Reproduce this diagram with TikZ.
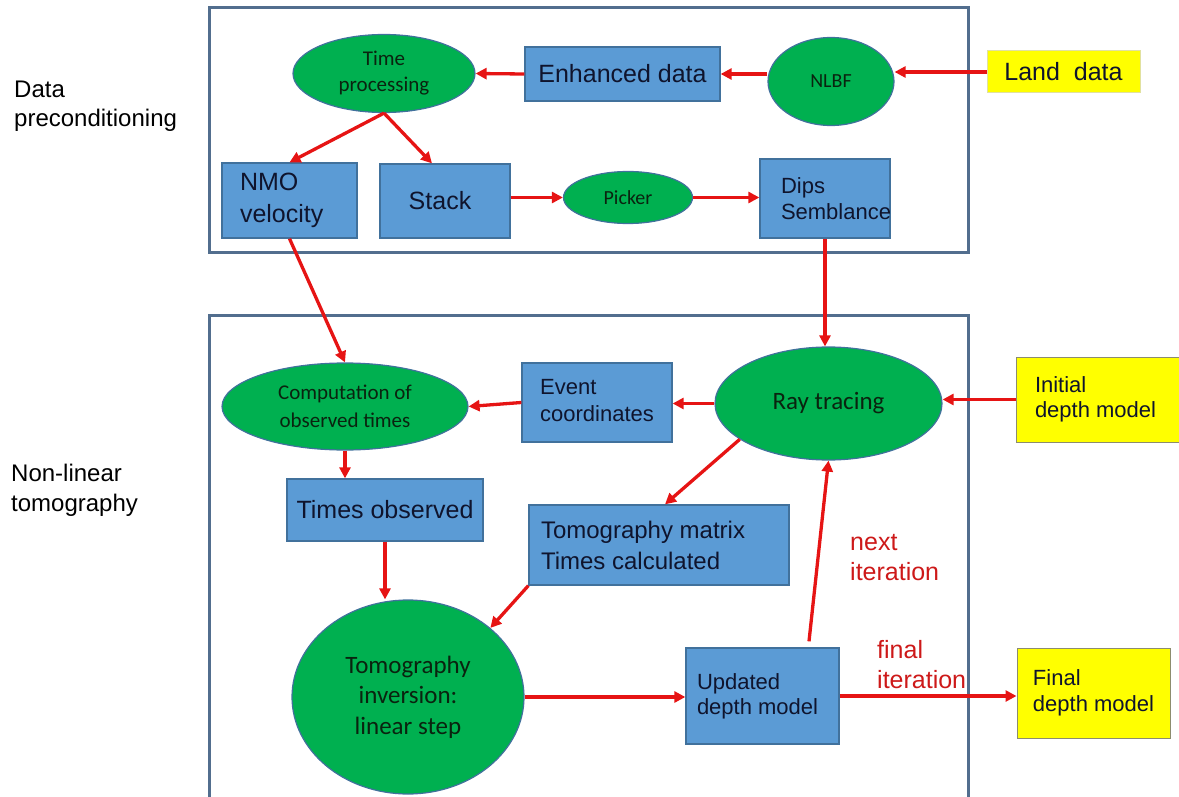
\documentclass[tikz,border=0pt]{standalone}
\usepackage{fontspec}
\setmainfont{Liberation Sans}
\newfontfamily\calfont{Carlito}
\usetikzlibrary{shapes.geometric,arrows.meta,calc}
\definecolor{boxblue}{RGB}{91,155,213}
\definecolor{boxline}{RGB}{65,113,156}
\definecolor{ellgreen}{RGB}{0,176,80}
\definecolor{ellline}{RGB}{65,113,156}
\definecolor{yel}{RGB}{255,255,0}
\definecolor{yelline}{RGB}{140,140,110}
\definecolor{framec}{RGB}{82,110,142}
\definecolor{arrred}{RGB}{230,20,20}
\definecolor{labred}{RGB}{205,25,25}
\definecolor{boxtext}{RGB}{15,20,45}
\definecolor{elltext}{RGB}{10,35,15}
\newcommand{\fsz}[2]{\fontsize{#1}{#2}\selectfont}
\begin{document}
\begin{tikzpicture}[x=1pt,y=-1pt,
  bluebox/.style={rectangle,draw=boxline,fill=boxblue,line width=1.3pt,inner sep=0pt,text=boxtext,align=left},
  greenell/.style={ellipse,draw=ellline,fill=ellgreen,line width=1.2pt,inner sep=0pt,text=elltext,align=center},
  yelbox/.style={rectangle,fill=yel,draw=yelline,line width=1pt,inner sep=0pt,text=boxtext,align=left},
  framebox/.style={draw=framec,line width=3pt},
  flow/.style={draw=arrred,line width=3.3pt,-{Triangle[length=11pt,width=11pt]}},
  side/.style={align=left,anchor=west,text=black,inner sep=0pt},
  redlab/.style={align=left,anchor=west,text=labred,inner sep=0pt},
]
\useasboundingbox (0,0) rectangle (1179,797);
% frames
\draw[framebox] (209,8) rectangle (968,252);
\draw[framebox] (209,800) -- (209,315) -- (968,315) -- (968,800);

% side labels
\node[side,font=\fsz{24}{29}] (lab1) at (14,106.5) {Data\\preconditioning};
\node[side,font=\fsz{24}{30}] (lab2) at (11,490) {Non-linear\\tomography};

% top section
\node[greenell,minimum width=182pt,minimum height=78pt,font=\calfont\fsz{21}{26}] (tp) at (384,73.5) {Time\\processing};
\node[bluebox,minimum width=195pt,minimum height=54pt,font=\fsz{25}{30}] (enh) at (622.5,74) {Enhanced data};
\node[greenell,minimum width=126pt,minimum height=88pt,font=\calfont\fsz{20}{24}] (nlbf) at (831,81.5) {NLBF};
\node[yelbox,draw={rgb,255:red,225;green,225;blue,160},minimum width=153pt,minimum height=42pt,font=\fsz{25}{30}] (land) at (1063.5,72) {Land\ \ data};

\node[bluebox,minimum width=135pt,minimum height=75pt,font=\fsz{25}{32}] (nmo) at (289.5,200.5) {NMO\\\makebox[99pt][l]{velocity}};
\node[bluebox,minimum width=130pt,minimum height=74pt,font=\fsz{25}{30}] (stack) at (445,201) {Stack\hspace*{10pt}};
\node[greenell,minimum width=129pt,minimum height=52pt,font=\calfont\fsz{20}{24}] (pick) at (628,197.5) {Picker};
\node[bluebox,minimum width=130pt,minimum height=79pt,font=\fsz{22}{26}] (dips) at (825,198.5) {Dips\\\makebox[88pt][l]{Semblance}};

% bottom section
\node[greenell,minimum width=246pt,minimum height=87pt,font=\calfont\fsz{21}{28}] (comp) at (345,406.5) {Computation of\\observed times};
\node[bluebox,minimum width=150pt,minimum height=79pt,font=\fsz{22}{27}] (ev) at (597,402.5) {\raisebox{11pt}{\begin{tabular}{@{}l@{}}Event\\coordinates\end{tabular}}};
\node[greenell,minimum width=227pt,minimum height=113pt,font=\calfont\fsz{25}{30}] (ray) at (828.5,403.5) {Ray tracing};
\node[yelbox,minimum width=174pt,minimum height=85pt,font=\fsz{22}{25}] (init) at (1103,399.5) {Initial\\\makebox[136pt][l]{depth model}};

\node[bluebox,minimum width=196pt,minimum height=62pt,font=\fsz{25}{30}] (tobs) at (385,510) {Times observed};
\node[bluebox,minimum width=260pt,minimum height=80pt,font=\fsz{24}{31}] (tm) at (659,545) {\makebox[236pt][l]{Tomography matrix}\\Times calculated};
\node[greenell,minimum width=232pt,minimum height=194pt,font=\calfont\fsz{25}{30.5}] (tinv) at (408,697) {Tomography\\inversion:\\linear step};
\node[bluebox,minimum width=153pt,minimum height=96pt,font=\fsz{22}{25}] (upd) at (762.5,696) {Updated\\\makebox[131pt][l]{depth model}};
\node[yelbox,minimum width=153pt,minimum height=90pt,font=\fsz{22}{26}] (fin) at (1093.5,693) {Final\\depth model};

% red labels
\node[redlab,font=\fsz{25}{30}] (nextlab) at (850,558) {next\\iteration};
\node[redlab,font=\fsz{25}{30}] (finallab) at (877,665) {final\\iteration};

% connectors top
\draw[flow] (land.west) -- (land.west -| nlbf.east);
\draw[flow] (enh.east -| nlbf.west) -- (enh.east);
\draw[flow] (enh.west) -- (tp.east);
\draw[flow] (tp.south) -- (nmo.north);
\draw[flow] (tp.south) -- ([xshift=-13pt]stack.north);
\draw[flow] (stack.east |- pick.west) -- (pick.west);
\draw[flow] (pick.east) -- (pick.east -| dips.west);
% connectors between
\draw[flow] (nmo.south) -- (comp.north);
\draw[flow] (dips.south) -- (dips.south |- ray.north);
% connectors bottom
\draw[flow] (init.west) -- (init.west -| ray.east);
\draw[flow] (ray.west) -- (ray.west -| ev.east);
\draw[flow] (ev.west) -- (comp.east);
\draw[flow] (comp.south) -- (comp.south |- tobs.north);
\draw[flow] (tobs.south) -- (tobs.south |- tinv.north);
\draw[flow] (ray.202) -- ([xshift=6pt]tm.north);
\draw[flow] (tm.south west) -- (tinv.40);
\draw[flow] (tinv.east) -- (tinv.east -| upd.west);
\draw[flow] ([xshift=46.5pt,yshift=6pt]upd.north) -- (ray.south);
\draw[flow] (upd.east) -- (upd.east -| fin.west);
\end{tikzpicture}
\end{document}
